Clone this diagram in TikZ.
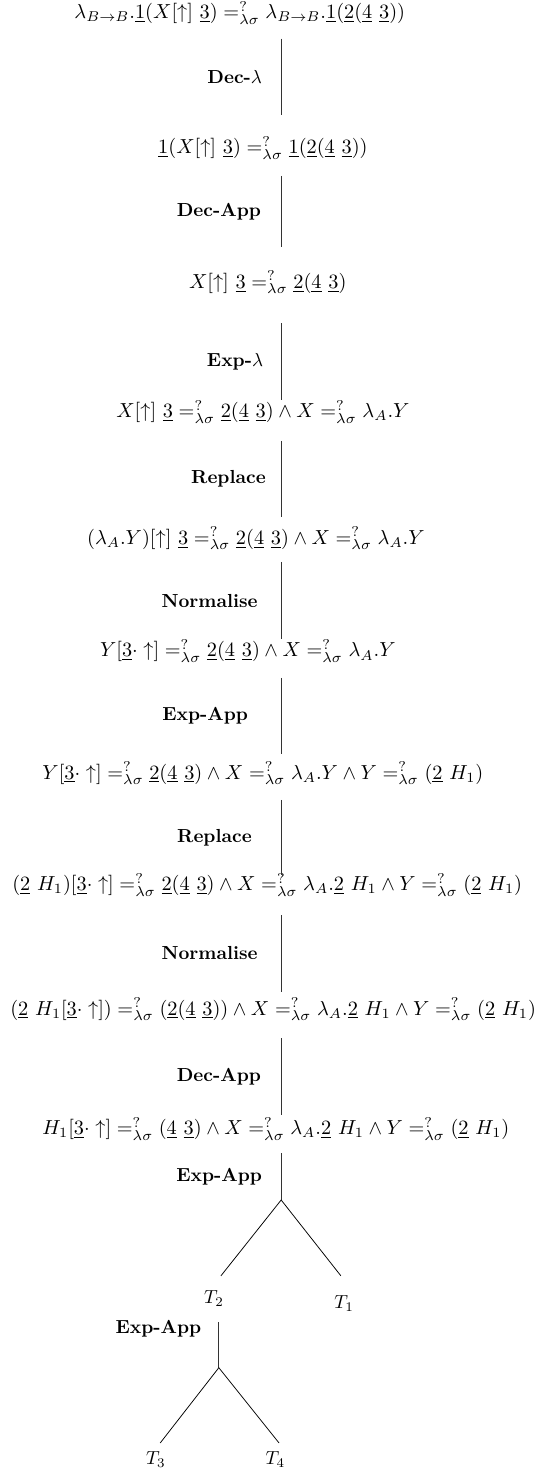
\documentclass[tikz,border=0pt]{standalone}
\usepackage{amsmath}
\usetikzlibrary{positioning}
\newcommand{\dbi}[1]{\underline{#1}}
\newcommand{\unif}{=^{?}_{\lambda\sigma}}

\begin{document}
\begin{tikzpicture}[
  frm/.style={anchor=base,inner sep=0pt,scale=1.075},
  rule/.style={font=\bfseries,inner sep=0pt,anchor=east},
  leaf/.style={inner sep=0pt},
  stem/.style={draw=black!80,line width=0.4pt}
]
  \useasboundingbox (0,0) rectangle (9.97,-27.38);

  % unification problems, top to bottom
  \node[frm] (f1) at (4.46,-0.35) {$\lambda_{B\to B}.\dbi{1}(X[\uparrow]\ \dbi{3}) \unif \lambda_{B\to B}.\dbi{1}(\dbi{2}(\dbi{4}\ \dbi{3}))$};
  \node[frm] (f2) at (4.89,-2.86) {$\dbi{1}(X[\uparrow]\ \dbi{3}) \unif \dbi{1}(\dbi{2}(\dbi{4}\ \dbi{3}))$};
  \node[frm] (f3) at (4.98,-5.36) {$X[\uparrow]\ \dbi{3} \unif \dbi{2}(\dbi{4}\ \dbi{3})$};
  \node[frm] (f4) at (4.89,-7.77) {$X[\uparrow]\ \dbi{3} \unif \dbi{2}(\dbi{4}\ \dbi{3}) \wedge X \unif \lambda_A.Y$};
  \node[frm] (f5) at (4.76,-10.12) {$(\lambda_A.Y)[\uparrow]\ \dbi{3} \unif \dbi{2}(\dbi{4}\ \dbi{3}) \wedge X \unif \lambda_A.Y$};
  \node[frm] (f6) at (4.61,-12.22) {$Y[\dbi{3}\cdot\uparrow] \unif \dbi{2}(\dbi{4}\ \dbi{3}) \wedge X \unif \lambda_A.Y$};
  \node[frm] (f7) at (4.89,-14.49) {$Y[\dbi{3}\cdot\uparrow] \unif \dbi{2}(\dbi{4}\ \dbi{3}) \wedge X \unif \lambda_A.Y \wedge Y \unif (\dbi{2}\ H_1)$};
  \node[frm] (f8) at (4.97,-16.57) {$(\dbi{2}\ H_1)[\dbi{3}\cdot\uparrow] \unif \dbi{2}(\dbi{4}\ \dbi{3}) \wedge X \unif \lambda_A.\dbi{2}\ H_1 \wedge Y \unif (\dbi{2}\ H_1)$};
  \node[frm] (f9) at (5.08,-18.88) {$(\dbi{2}\ H_1[\dbi{3}\cdot\uparrow]) \unif (\dbi{2}(\dbi{4}\ \dbi{3})) \wedge X \unif \lambda_A.\dbi{2}\ H_1 \wedge Y \unif (\dbi{2}\ H_1)$};
  \node[frm] (f10) at (5.13,-21.11) {$H_1[\dbi{3}\cdot\uparrow] \unif (\dbi{4}\ \dbi{3}) \wedge X \unif \lambda_A.\dbi{2}\ H_1 \wedge Y \unif (\dbi{2}\ H_1)$};

  % rule steps
  \coordinate (a1) at (5.23,-0.72);  \coordinate (b1) at (5.23,-2.14);
  \coordinate (a2) at (5.23,-3.27);  \coordinate (b2) at (5.23,-4.59);
  \coordinate (a3) at (5.23,-6.01);  \coordinate (b3) at (5.23,-7.44);
  \coordinate (a4) at (5.23,-8.20);  \coordinate (b4) at (5.23,-9.62);
  \coordinate (a5) at (5.23,-10.45); \coordinate (b5) at (5.23,-11.89);
  \coordinate (a6) at (5.23,-12.61); \coordinate (b6) at (5.23,-14.02);
  \coordinate (a7) at (5.23,-14.88); \coordinate (b7) at (5.23,-16.28);
  \coordinate (a8) at (5.23,-17.02); \coordinate (b8) at (5.23,-18.45);
  \coordinate (a9) at (5.23,-19.31); \coordinate (b9) at (5.23,-20.74);
  \draw[stem] (a1) -- node[rule,left=0.35cm] {Dec-$\lambda$} (b1);
  \draw[stem] (a2) -- node[rule,left=0.37cm] {Dec-App} (b2);
  \draw[stem] (a3) -- node[rule,left=0.33cm] {Exp-$\lambda$} (b3);
  \draw[stem] (a4) -- node[rule,left=0.28cm] {Replace} (b4);
  \draw[stem] (a5) -- node[rule,left=0.43cm] {Normalise} (b5);
  \draw[stem] (a6) -- node[rule,left=0.61cm] {Exp-App} (b6);
  \draw[stem] (a7) -- node[rule,left=0.54cm] {Replace} (b7);
  \draw[stem] (a8) -- node[rule,left=0.43cm] {Normalise} (b8);
  \draw[stem] (a9) -- node[rule,left=0.37cm] {Dec-App} (b9);

  % first split
  \coordinate (a10) at (5.23,-21.45); \coordinate (k1) at (5.23,-22.32);
  \coordinate (e2) at (4.11,-23.73);  \coordinate (e1) at (6.34,-23.73);
  \draw[stem] (a10) -- node[rule,left=0.35cm] {Exp-App} (k1);
  \draw (k1) -- (e2);
  \draw (k1) -- (e1);
  \node[leaf] (t2) at (3.98,-24.16) {$T_2$};
  \node[leaf] (t1) at (6.40,-24.25) {$T_1$};

  % second split
  \coordinate (a11) at (4.07,-24.59); \coordinate (k2) at (4.07,-25.44);
  \coordinate (e3) at (2.98,-26.84);  \coordinate (e4) at (5.19,-26.84);
  \draw[stem] (a11) -- node[rule,pos=0.15,left=0.32cm] {Exp-App} (k2);
  \draw (k2) -- (e3);
  \draw (k2) -- (e4);
  \node[leaf] (t3) at (2.90,-27.15) {$T_3$};
  \node[leaf] (t4) at (5.12,-27.15) {$T_4$};
\end{tikzpicture}
\end{document}
